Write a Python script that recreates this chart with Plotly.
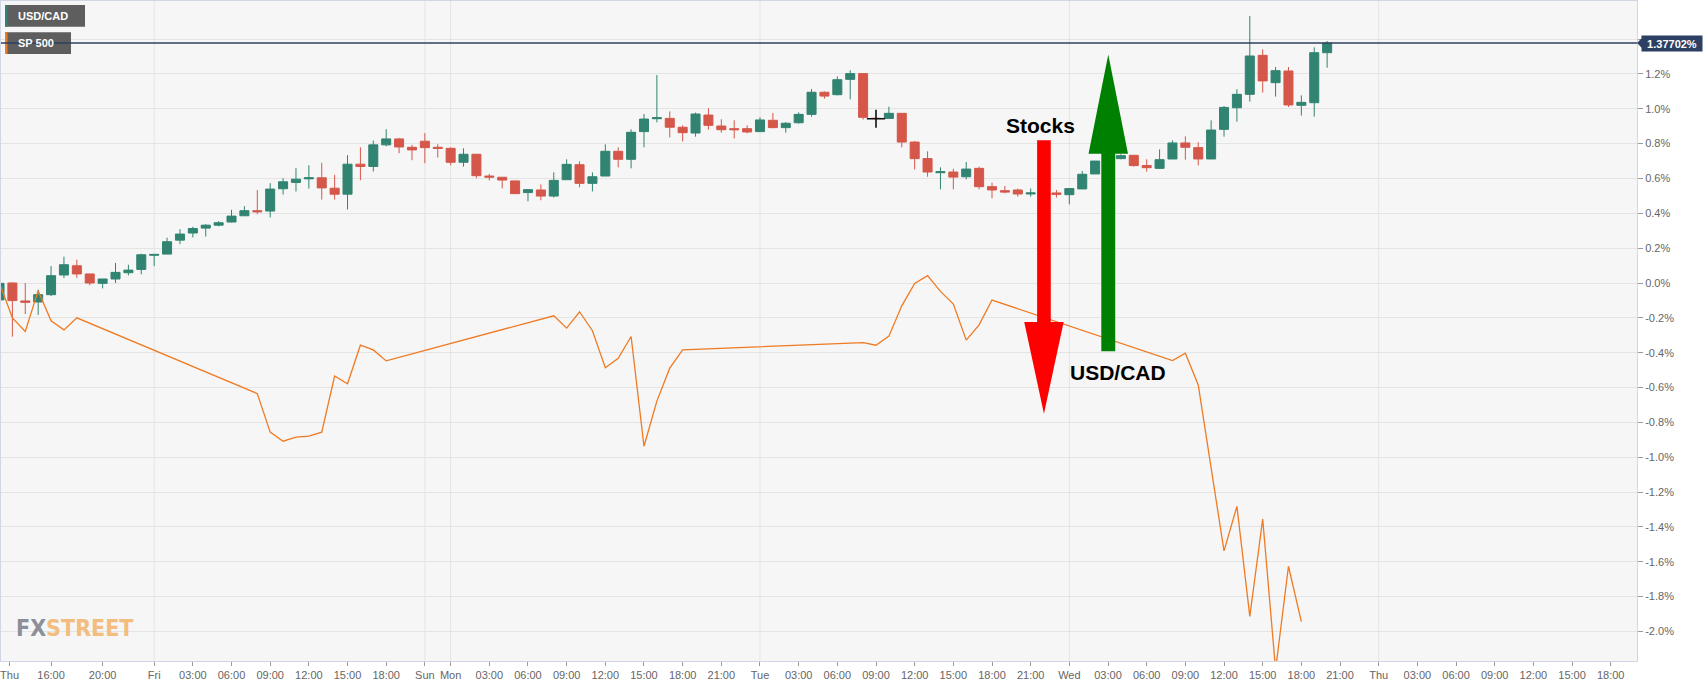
import plotly.graph_objects as go

# ---------------- data ----------------
# hourly USD/CAD candles, x = trading-hour index (0 = Thu 12:00), values in % change
candle_idx = list(range(104))
candle_open = [-0.097, 0.0, -0.103, -0.109, -0.067, 0.046, 0.099, 0.052, -0.002, 0.023,
               0.059, 0.078, 0.159, 0.166, 0.246, 0.287, 0.315, 0.332, 0.350, 0.386,
               0.415, 0.413, 0.541, 0.577, 0.598, 0.604, 0.544, 0.510, 0.682, 0.669,
               0.793, 0.827, 0.779, 0.814, 0.779, 0.773, 0.693, 0.739, 0.614, 0.607,
               0.586, 0.519, 0.534, 0.499, 0.593, 0.679, 0.572, 0.614, 0.756, 0.710,
               0.869, 0.943, 0.945, 0.894, 0.861, 0.964, 0.901, 0.886, 0.886, 0.869,
               0.934, 0.892, 0.920, 0.968, 1.095, 1.081, 1.169, 1.202, 0.946, 0.945,
               0.974, 0.809, 0.714, 0.633, 0.637, 0.610, 0.658, 0.553, 0.530, 0.534,
               0.511, 0.517, 0.517, 0.507, 0.540, 0.626, 0.700, 0.714, 0.733, 0.674,
               0.658, 0.712, 0.804, 0.777, 0.712, 0.882, 1.006, 1.083, 1.307, 1.150,
               1.217, 1.020, 1.035, 1.322]
candle_high = [0.027, 0.004, 0.0, -0.038, 0.097, 0.151, 0.134, 0.052, 0.023, 0.115,
               0.105, 0.168, 0.164, 0.260, 0.309, 0.323, 0.338, 0.355, 0.420, 0.441,
               0.533, 0.573, 0.602, 0.659, 0.676, 0.690, 0.621, 0.734, 0.779, 0.818,
               0.883, 0.833, 0.793, 0.860, 0.797, 0.779, 0.773, 0.739, 0.626, 0.607,
               0.586, 0.536, 0.566, 0.635, 0.710, 0.698, 0.635, 0.796, 0.779, 0.882,
               0.970, 1.194, 0.985, 0.905, 0.978, 1.003, 0.940, 0.934, 0.905, 0.951,
               0.976, 0.924, 0.980, 1.114, 1.100, 1.186, 1.221, 1.202, 0.952, 1.012,
               0.974, 0.815, 0.756, 0.664, 0.656, 0.695, 0.668, 0.576, 0.557, 0.542,
               0.543, 0.530, 0.534, 0.542, 0.643, 0.700, 0.725, 0.739, 0.733, 0.710,
               0.767, 0.819, 0.842, 0.808, 0.934, 1.016, 1.112, 1.533, 1.341, 1.240,
               1.240, 1.077, 1.353, 1.389]
candle_low = [-0.124, -0.308, -0.178, -0.183, -0.075, 0.029, 0.029, -0.013, -0.031, 0.0,
              0.044, 0.050, 0.097, 0.166, 0.223, 0.262, 0.267, 0.325, 0.348, 0.384,
              0.395, 0.376, 0.508, 0.525, 0.542, 0.479, 0.479, 0.422, 0.590, 0.640,
              0.785, 0.745, 0.705, 0.688, 0.720, 0.675, 0.668, 0.601, 0.589, 0.543,
              0.513, 0.469, 0.475, 0.490, 0.593, 0.549, 0.526, 0.614, 0.664, 0.658,
              0.779, 0.922, 0.836, 0.813, 0.840, 0.880, 0.863, 0.830, 0.859, 0.869,
              0.888, 0.863, 0.915, 0.955, 1.058, 1.077, 1.054, 0.938, 0.938, 0.945,
              0.779, 0.652, 0.610, 0.538, 0.538, 0.595, 0.538, 0.486, 0.515, 0.496,
              0.496, 0.500, 0.490, 0.452, 0.540, 0.626, 0.690, 0.710, 0.668, 0.639,
              0.658, 0.712, 0.708, 0.675, 0.712, 0.840, 0.926, 1.041, 1.093, 1.070,
              1.010, 0.961, 0.955, 1.236]
candle_close = [-0.002, -0.101, -0.111, -0.067, 0.042, 0.105, 0.052, 0.0, 0.023, 0.061,
                0.074, 0.162, 0.164, 0.237, 0.281, 0.313, 0.332, 0.346, 0.384, 0.415,
                0.409, 0.539, 0.581, 0.596, 0.604, 0.546, 0.510, 0.682, 0.669, 0.793,
                0.827, 0.781, 0.764, 0.777, 0.772, 0.693, 0.739, 0.616, 0.608, 0.591,
                0.513, 0.536, 0.499, 0.589, 0.681, 0.572, 0.610, 0.756, 0.710, 0.865,
                0.941, 0.949, 0.894, 0.863, 0.970, 0.905, 0.880, 0.880, 0.867, 0.936,
                0.892, 0.917, 0.968, 1.095, 1.073, 1.167, 1.202, 0.951, 0.944, 0.974,
                0.809, 0.714, 0.637, 0.639, 0.608, 0.654, 0.553, 0.534, 0.522, 0.511,
                0.517, 0.513, 0.509, 0.542, 0.624, 0.700, 0.714, 0.731, 0.674, 0.662,
                0.708, 0.804, 0.779, 0.712, 0.878, 1.008, 1.083, 1.303, 1.160, 1.219,
                1.022, 1.037, 1.322, 1.37702]
last_value = 1.37702

# SP 500 line (% change)
sp_idx = [0, 1, 2, 3, 4, 5, 6, 20, 21, 22, 23, 24, 25, 26, 27, 28, 29, 30,
          43, 44, 45, 46, 47, 48, 49, 50, 51, 52, 53, 67, 68, 69, 70, 71, 72,
          73, 74, 75, 76, 77, 91, 92, 93, 95, 96, 97, 98, 99, 100, 101]
sp_val = [0.0, -0.20, -0.278, -0.044, -0.217, -0.269, -0.20, -0.635, -0.856, -0.908,
          -0.885, -0.879, -0.856, -0.534, -0.578, -0.357, -0.384, -0.447,
          -0.188, -0.259, -0.165, -0.274, -0.486, -0.432, -0.307, -0.937, -0.678,
          -0.489, -0.384, -0.342, -0.357, -0.305, -0.131, -0.002, 0.042,
          -0.048, -0.121, -0.328, -0.240, -0.098, -0.445, -0.403, -0.585, -1.538,
          -1.282, -1.914, -1.355, -2.22, -1.626, -1.944]

# x-axis ticks
tick_idx = [0.78, 4, 8, 12, 15, 18, 21, 24, 27, 30, 33, 35, 38, 41, 44, 47, 50, 53, 56,
            59, 62, 65, 68, 71, 74, 77, 80, 83, 86, 89, 92, 95, 98, 101, 104,
            107, 110, 113, 116, 119, 122, 125]
tick_text = ["Thu", "16:00", "20:00", "Fri", "03:00", "06:00", "09:00", "12:00", "15:00",
             "18:00", "Sun", "Mon", "03:00", "06:00", "09:00", "12:00", "15:00", "18:00",
             "21:00", "Tue", "03:00", "06:00", "09:00", "12:00", "15:00", "18:00", "21:00",
             "Wed", "03:00", "06:00", "09:00", "12:00", "15:00", "18:00", "21:00",
             "Thu", "03:00", "06:00", "09:00", "12:00", "15:00", "18:00"]
day_idx = [12, 33, 35, 59, 83, 107]

y_ticks = [round(-2.0 + 0.2 * i, 1) for i in range(18)]
y_text = ["" if v > 1.3 else f"{v:.1f}%".replace("-0.0", "0.0") for v in y_ticks]

# cursor crosshair position
cursor_x = [68]
cursor_y = [0.943]

# ---------------- style ----------------
GREEN = "#318471"
RED = "#d5574a"
ORANGE = "#ef7a22"
NAVY = "#2d3f62"
GRID = "#e4e4e4"
BORDER = "#d0d6e6"
FONT = "Liberation Sans, Arial, sans-serif"

fig = go.Figure()

fig.add_trace(go.Candlestick(
    x=candle_idx, open=candle_open, high=candle_high, low=candle_low, close=candle_close,
    increasing=dict(line=dict(color=GREEN, width=1), fillcolor=GREEN),
    decreasing=dict(line=dict(color=RED, width=1), fillcolor=RED),
    whiskerwidth=0, hoverinfo="skip", showlegend=False,
))

fig.add_trace(go.Scatter(
    x=sp_idx, y=sp_val, mode="lines",
    line=dict(color=ORANGE, width=1.3),
    hoverinfo="skip", showlegend=False,
))

fig.add_trace(go.Scatter(
    x=cursor_x, y=cursor_y, mode="markers",
    marker=dict(symbol="cross-thin", size=13, line=dict(color="#111111", width=1.6)),
    hoverinfo="skip", showlegend=False,
))

shapes = []
# vertical day-boundary gridlines
for d in day_idx:
    shapes.append(dict(type="line", xref="x", yref="paper", x0=d, x1=d, y0=0, y1=1,
                       line=dict(color=GRID, width=1), layer="below"))

# arrows (data-space geometry)
def arrow_path(cx, y_start, y_neck, y_tip, shaft_hw, head_hw):
    pts = [(cx - shaft_hw, y_start), (cx + shaft_hw, y_start), (cx + shaft_hw, y_neck),
           (cx + head_hw, y_neck), (cx, y_tip), (cx - head_hw, y_neck), (cx - shaft_hw, y_neck)]
    return "M " + " L ".join(f"{x},{y}" for x, y in pts) + " Z"

shapes.append(dict(type="path", xref="x", yref="y",
                   path=arrow_path(81.03, 0.819, -0.2246, -0.750, 0.53, 1.53),
                   fillcolor="#ff0000", line=dict(width=0), layer="above"))
shapes.append(dict(type="path", xref="x", yref="y",
                   path=arrow_path(86.02, -0.3916, 0.742, 1.312, 0.54, 1.53),
                   fillcolor="#008000", line=dict(width=0), layer="above"))

# legend boxes top-left (pixel sized)
for (x1, ya, yb, stripe) in [(84, -4, -25.7, GREEN), (70, -31.3, -53, ORANGE)]:
    shapes.append(dict(type="rect", xref="paper", yref="paper", xsizemode="pixel",
                       ysizemode="pixel", xanchor=0, yanchor=1, x0=4, x1=x1, y0=ya, y1=yb,
                       fillcolor="#5e5e5e", line=dict(width=0), layer="above"))
    shapes.append(dict(type="rect", xref="paper", yref="paper", xsizemode="pixel",
                       ysizemode="pixel", xanchor=0, yanchor=1, x0=4, x1=6.5, y0=ya, y1=yb,
                       fillcolor=stripe, line=dict(width=0), layer="above"))

# last value line
shapes.append(dict(type="line", xref="paper", yref="y", x0=0, x1=1, y0=last_value,
                   y1=last_value, line=dict(color=NAVY, width=1.5), layer="above"))
# label notch
shapes.append(dict(type="path", xref="paper", yref="y", xsizemode="pixel", ysizemode="pixel",
                   xanchor=1, yanchor=last_value, path="M 0,0 L 5,5 L 5,-5 Z",
                   fillcolor=NAVY, line=dict(width=0), layer="above"))

annotations = [
    dict(text="<b>Stocks</b>", x=80.8, y=0.907, xref="x", yref="y", showarrow=False,
         font=dict(family=FONT, size=21, color="#000000"), xanchor="center", yanchor="middle"),
    dict(text="<b>USD/CAD</b>", x=86.74, y=-0.513, xref="x", yref="y", showarrow=False,
         font=dict(family=FONT, size=21, color="#000000"), xanchor="center", yanchor="middle"),
    dict(text="<b>USD/CAD</b>", x=0, y=1, xref="paper", yref="paper", xanchor="left",
         yanchor="middle", xshift=15, yshift=-14.8, showarrow=False,
         font=dict(family=FONT, size=11, color="#ffffff")),
    dict(text="<b>SP 500</b>", x=0, y=1, xref="paper", yref="paper", xanchor="left",
         yanchor="middle", xshift=15, yshift=-42.2, showarrow=False,
         font=dict(family=FONT, size=11, color="#ffffff")),
    dict(text="<b>1.37702%</b>", x=1, y=last_value, xref="paper", yref="y", xanchor="left",
         yanchor="middle", xshift=4, showarrow=False, bgcolor=NAVY, borderpad=1,
         width=58, height=13, font=dict(family=FONT, size=11, color="#ffffff")),
    dict(text="<b><span style='color:#8c8f99'>FX</span><span style='color:#f2bd7e'>STREET</span></b>",
         x=0, y=0, xref="paper", yref="paper", xanchor="left", yanchor="bottom",
         xshift=13, yshift=18, showarrow=False,
         font=dict(family="Liberation Sans Narrow, DejaVu Sans Condensed, Arial Narrow, sans-serif",
                   size=23, color="#8c8f99")),
]

fig.update_layout(
    width=1707, height=687,
    margin=dict(l=1, r=70, t=1, b=26, pad=0),
    paper_bgcolor="#ffffff", plot_bgcolor="#f6f6f6",
    boxgap=0.3, boxgroupgap=0,
    shapes=shapes, annotations=annotations,
    showlegend=False, hovermode=False,
    font=dict(family=FONT, size=11, color="#666666"),
    xaxis=dict(range=[0.116, 127.04], rangeslider=dict(visible=False),
               tickvals=tick_idx, ticktext=tick_text, tickangle=0,
               ticklabeloverflow="allow",
               showgrid=False, zeroline=False, showline=True, mirror=True,
               linecolor=BORDER, linewidth=1, ticks="outside", ticklen=4,
               tickcolor="#9a9a9a", tickfont=dict(size=11, color="#666666")),
    yaxis=dict(range=[-2.1699, 1.6188], side="right", tickvals=y_ticks, ticktext=y_text,
               showgrid=True, gridcolor=GRID, gridwidth=1, zeroline=False,
               showline=True, mirror=True, linecolor=BORDER, linewidth=1,
               ticks="outside", ticklen=5, tickcolor="#9a9a9a",
               tickfont=dict(size=11, color="#666666")),
)

fig.write_html("out.html", config={"displayModeBar": False},
               post_script="document.body.style.margin='0px';")
